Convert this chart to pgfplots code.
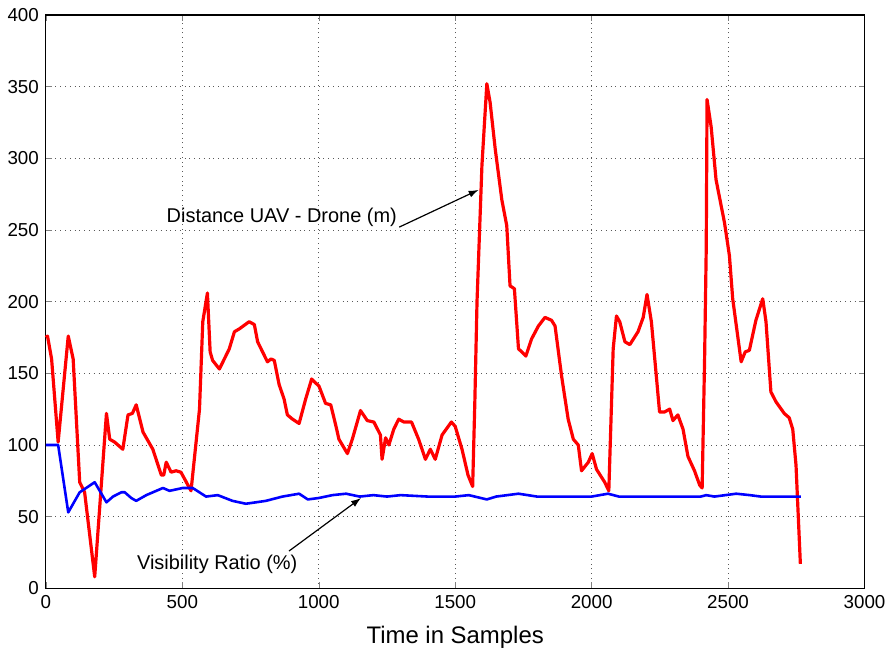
\documentclass[border=0pt]{standalone}
\usepackage{fontspec}
\setmainfont{Liberation Sans}
\usepackage{pgfplots}
\pgfplotsset{compat=1.18}
\usetikzlibrary{arrows.meta}

\begin{document}
\begin{tikzpicture}
\begin{axis}[
  scale only axis, width=410.5pt, height=287.5pt,
  xmin=0, xmax=3000, ymin=0, ymax=400,
  xtick={0,500,...,3000}, ytick={0,50,...,400},
  grid=major, major grid style={dotted, black!65, line width=0.4pt},
  tick align=inside, major tick length=3pt,
  axis line style={line width=0.6pt},
  /pgf/number format/assume math mode=true,
  /pgf/number format/1000 sep={},
  ticklabel style={font=\fontsize{9.4}{11}\selectfont},
  xlabel={Time in Samples},
  xlabel style={font=\fontsize{12}{14}\selectfont, yshift=-2pt},
  clip=false,
]
% distance UAV - drone
\addplot[color=red, line width=1.6pt, line join=round] coordinates {
(0,175) (6,176) (21,160) (45,102) (82,176) (100,160) (124,74) (142,67) (179,8)
(222,122) (234,104) (252,102) (282,97) (301,121) (317,122) (331,128) (356,109)
(392,97) (423,79) (432,79) (441,88) (459,81) (477,82) (495,81) (532,68) (563,125)
(575,186) (592,206) (602,165) (611,159) (636,153) (672,167) (691,179) (709,181)
(745,186) (764,184) (776,172) (812,158) (825,160) (837,159) (855,142) (873,132)
(885,121) (904,118) (928,115) (952,132) (974,146) (1001,141) (1025,129) (1044,128)
(1062,114) (1074,104) (1105,94) (1123,104) (1153,124) (1178,117) (1202,116)
(1226,107) (1232,90) (1245,105) (1257,100) (1275,111) (1293,118) (1312,116)
(1340,116) (1366,104) (1391,90) (1409,97) (1427,90) (1452,107) (1486,116)
(1500,113) (1525,97) (1547,79) (1564,71) (1572,130) (1580,200) (1598,295)
(1616,352) (1628,339) (1647,306) (1671,271) (1689,253) (1701,211) (1717,209)
(1732,167) (1744,165) (1759,162) (1780,174) (1805,183) (1829,189) (1853,187)
(1866,183) (1890,148) (1914,118) (1933,104) (1951,100) (1963,82) (1988,88)
(2002,94) (2018,83) (2048,74) (2063,68) (2079,167) (2091,190) (2103,186)
(2122,172) (2140,170) (2170,179) (2189,189) (2203,205) (2219,186) (2249,123)
(2267,123) (2286,125) (2298,117) (2316,121) (2335,111) (2353,92) (2377,82)
(2396,72) (2405,70) (2414,160) (2420,237) (2423,341) (2438,322) (2456,285)
(2487,255) (2505,232) (2517,202) (2548,158) (2563,165) (2578,166) (2602,187)
(2627,202) (2639,186) (2657,137) (2676,130) (2706,122) (2724,119) (2737,111)
(2749,86) (2765,17)
};
% visibility ratio
\addplot[color=blue, line width=1.3pt, line join=round] coordinates {
(0,100) (45,100) (82,53) (124,67) (179,74) (222,60) (246,64) (277,67) (289,67)
(313,63) (331,61) (368,65) (429,70) (453,68) (502,70) (538,70) (587,64) (630,65)
(684,61) (733,59) (770,60) (806,61) (867,64) (928,66) (960,62) (1000,63)
(1050,65) (1100,66) (1150,64) (1200,65) (1250,64) (1300,65) (1400,64) (1500,64)
(1550,65) (1616,62) (1650,64) (1732,66) (1800,64) (2000,64) (2060,66) (2100,64)
(2300,64) (2400,64) (2420,65) (2450,64) (2530,66) (2580,65) (2620,64) (2680,64)
(2767,64)
};
\node[anchor=east, font=\fontsize{10}{12}\selectfont, inner sep=1pt] at (axis cs:1295,259) {Distance UAV - Drone (m)};
\draw[-{Latex[length=5pt,width=3.5pt]}, line width=0.6pt] (axis cs:1295,252) -- (axis cs:1586,278);
\node[font=\fontsize{10}{12}\selectfont] at (axis cs:628,17) {Visibility Ratio (\%)};
\draw[-{Latex[length=5pt,width=3.5pt]}, line width=0.6pt] (axis cs:891,26) -- (axis cs:1155,63);
\coordinate (sw) at (rel axis cs:0,0);
\coordinate (ne) at (rel axis cs:1,1);
\end{axis}
\path ([shift={(-23pt,-31pt)}]sw) rectangle ([shift={(12.5pt,7.5pt)}]ne);
\end{tikzpicture}
\end{document}
